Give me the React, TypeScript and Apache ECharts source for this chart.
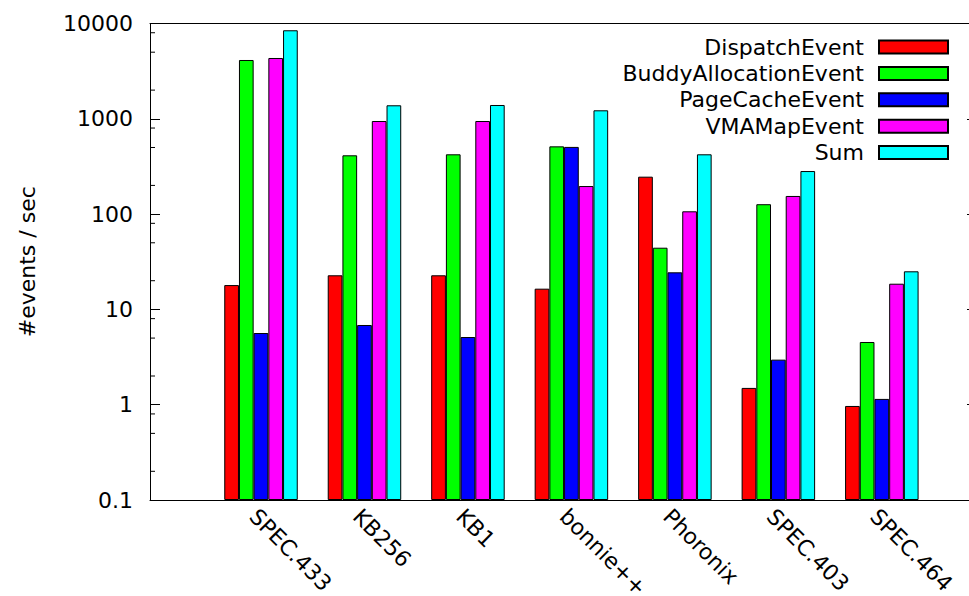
import React, { useEffect, useRef } from 'react';
import * as echarts from 'echarts';

const categories = ['SPEC.433', 'KB256', 'KB1', 'bonnie++', 'Phoronix', 'SPEC.403', 'SPEC.464'];
const dispatchEvent = [18.0, 22.8, 22.8, 16.5, 247, 1.5, 0.97];
const buddyAllocationEvent = [4140, 414, 424, 514, 44.4, 127, 4.55];
const pageCacheEvent = [5.65, 6.86, 5.13, 507, 24.5, 2.97, 1.15];
const vmaMapEvent = [4345, 948, 948, 197, 107, 155, 18.6];
const sumEvent = [8490, 1386, 1396, 1228, 424, 283, 25.1];
const seriesNames = ['DispatchEvent', 'BuddyAllocationEvent', 'PageCacheEvent', 'VMAMapEvent', 'Sum'];
const seriesValues = [dispatchEvent, buddyAllocationEvent, pageCacheEvent, vmaMapEvent, sumEvent];
const seriesColors = ['#ff0000', '#00ff00', '#0000ff', '#ff00ff', '#00ffff'];
const yTickLabels = ['0.1', '1', '10', '100', '1000', '10000'];
const minorTickValues = [0.2, 0.5, 0.8, 2, 5, 8, 20, 50, 80, 200, 500, 800, 2000, 5000, 8000];

const FONT = 'DejaVu Sans';

export default function App() {
  const ref = useRef<HTMLDivElement>(null);
  useEffect(() => {
    if (!ref.current) return;
    const chart = echarts.init(ref.current, null, { renderer: 'svg' });
    const top = 23.5;
    const height = 476.5;
    const rightOverflow = 8;
    const logAxisBase = { type: 'log', logBase: 10, min: 0.1, max: 10000, splitNumber: 5 };
    const option: any = {
      animation: false,
      backgroundColor: '#ffffff',
      textStyle: { fontFamily: FONT, color: '#000' },
      grid: [
        { left: 150, right: 0, top, height, containLabel: false, outerBoundsMode: 'none' },
        { left: 209.27, width: 724.3, top, height, containLabel: false, outerBoundsMode: 'none' },
      ],
      xAxis: [
        {
          gridIndex: 0, type: 'value', min: 0, max: 1, position: 'bottom',
          axisLine: { show: true, onZero: false, lineStyle: { color: '#000', width: 1 } },
          axisTick: { show: false }, axisLabel: { show: false }, splitLine: { show: false },
        },
        {
          gridIndex: 0, type: 'value', min: 0, max: 1, position: 'top',
          axisLine: { show: true, onZero: false, lineStyle: { color: '#000', width: 1 } },
          axisTick: { show: false }, axisLabel: { show: false }, splitLine: { show: false },
        },
        {
          gridIndex: 1, type: 'category', data: categories, position: 'bottom',
          axisLine: { show: false, onZero: false }, axisTick: { show: false }, splitLine: { show: false },
          axisLabel: {
            interval: 0, rotate: -45, margin: 5, align: 'left', verticalAlign: 'top',
            fontSize: 22, fontFamily: FONT, color: '#000',
          },
        },
      ],
      yAxis: [
        {
          ...logAxisBase, gridIndex: 0, position: 'left',
          name: '#events / sec', nameLocation: 'middle', nameGap: 112,
          nameTextStyle: { fontSize: 22, fontFamily: FONT, color: '#000' },
          axisLine: { show: true, onZero: false, lineStyle: { color: '#000', width: 1 } },
          axisTick: { show: true, inside: true, length: 10, lineStyle: { color: '#000' } },
          axisLabel: {
            margin: 17, fontSize: 22, fontFamily: FONT, color: '#000',
            formatter: (v: number) => yTickLabels[Math.round(Math.log10(v)) + 1] ?? String(v),
          },
          splitLine: { show: false },
        },
        {
          ...logAxisBase, gridIndex: 0, position: 'right', offset: rightOverflow,
          axisLine: { show: false, onZero: false },
          axisTick: { show: true, inside: true, length: 10, lineStyle: { color: '#000' } },
          axisLabel: { show: false }, splitLine: { show: false },
        },
        {
          ...logAxisBase, gridIndex: 1, startValue: 0.1,
          axisLine: { show: false, onZero: false }, axisTick: { show: false }, axisLabel: { show: false }, splitLine: { show: false },
        },
      ],
      legend: {
        orient: 'vertical', align: 'right', right: 15, top: 31,
        itemWidth: 69, itemHeight: 13, itemGap: 4.4, icon: 'rect',
        data: seriesNames,
        textStyle: { fontSize: 22, fontFamily: FONT, color: '#000', padding: [0, 10, 0, 0] },
      },
      series: [
        ...seriesNames.map((name, i) => ({
          name, type: 'bar', xAxisIndex: 2, yAxisIndex: 2,
          data: seriesValues[i], barWidth: 14.7, barGap: '0%',
          itemStyle: { color: seriesColors[i], borderColor: '#000', borderWidth: 1 },
          silent: true,
        })),
        {
          type: 'custom', xAxisIndex: 0, yAxisIndex: 0, silent: true, clip: false,
          data: minorTickValues.map((v) => [0, v]),
          renderItem: (_p: any, api: any) => {
            const v = api.value(1);
            const l = api.coord([0, v]);
            const r = api.coord([1, v]);
            const rx = r[0] + rightOverflow;
            return {
              type: 'group',
              children: [
                { type: 'line', shape: { x1: l[0], y1: l[1], x2: l[0] + 5, y2: l[1] }, style: { stroke: '#000', lineWidth: 1 } },
                { type: 'line', shape: { x1: rx - 5, y1: r[1], x2: rx, y2: r[1] }, style: { stroke: '#000', lineWidth: 1 } },
              ],
            };
          },
        },
      ],
    };
    chart.setOption(option);
    return () => chart.dispose();
  }, []);
  return (
    <div
      ref={ref}
      style={{ position: 'fixed', left: 0, top: 0, width: 969, height: 596, background: '#fff' }}
    />
  );
}
